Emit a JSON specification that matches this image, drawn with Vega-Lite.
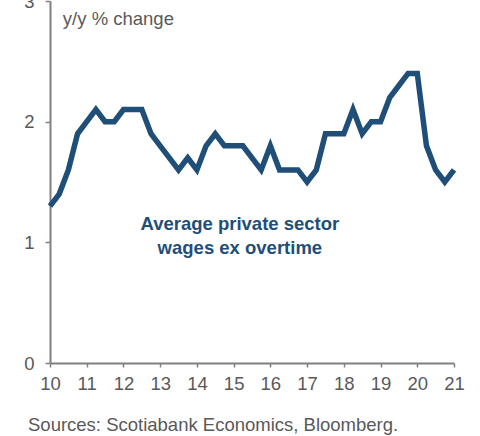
{
  "$schema": "https://vega.github.io/schema/vega-lite/v6.json",
  "autosize": "none",
  "width": 404,
  "height": 362,
  "padding": {"left": 50, "top": 1, "right": 26, "bottom": 73},
  "background": "white",
  "config": {"view": {"stroke": null}, "font": "Liberation Sans"},
  "title": {
    "text": "Sources: Scotiabank Economics, Bloomberg.",
    "orient": "bottom",
    "anchor": "start",
    "frame": "group",
    "dx": -22,
    "offset": 23,
    "fontSize": 18.5,
    "fontWeight": "normal",
    "color": "#595959",
    "font": "Liberation Sans"
  },
  "layer": [
    {
      "data": {
        "values": [
          {"t": 10.0, "v": 1.3}, {"t": 10.25, "v": 1.4}, {"t": 10.5, "v": 1.6}, {"t": 10.75, "v": 1.9},
          {"t": 11.0, "v": 2.0}, {"t": 11.25, "v": 2.1}, {"t": 11.5, "v": 2.0}, {"t": 11.75, "v": 2.0},
          {"t": 12.0, "v": 2.1}, {"t": 12.25, "v": 2.1}, {"t": 12.5, "v": 2.1}, {"t": 12.75, "v": 1.9},
          {"t": 13.0, "v": 1.8}, {"t": 13.25, "v": 1.7}, {"t": 13.5, "v": 1.6}, {"t": 13.75, "v": 1.7},
          {"t": 14.0, "v": 1.6}, {"t": 14.25, "v": 1.8}, {"t": 14.5, "v": 1.9}, {"t": 14.75, "v": 1.8},
          {"t": 15.0, "v": 1.8}, {"t": 15.25, "v": 1.8}, {"t": 15.5, "v": 1.7}, {"t": 15.75, "v": 1.6},
          {"t": 16.0, "v": 1.8}, {"t": 16.25, "v": 1.6}, {"t": 16.5, "v": 1.6}, {"t": 16.75, "v": 1.6},
          {"t": 17.0, "v": 1.5}, {"t": 17.25, "v": 1.6}, {"t": 17.5, "v": 1.9}, {"t": 17.75, "v": 1.9},
          {"t": 18.0, "v": 1.9}, {"t": 18.25, "v": 2.1}, {"t": 18.5, "v": 1.9}, {"t": 18.75, "v": 2.0},
          {"t": 19.0, "v": 2.0}, {"t": 19.25, "v": 2.2}, {"t": 19.5, "v": 2.3}, {"t": 19.75, "v": 2.4},
          {"t": 20.0, "v": 2.4}, {"t": 20.25, "v": 1.8}, {"t": 20.5, "v": 1.6}, {"t": 20.75, "v": 1.5},
          {"t": 21.0, "v": 1.6}
        ]
      },
      "mark": {"type": "line", "color": "#1F4E79", "strokeWidth": 5.5, "strokeJoin": "miter", "strokeCap": "butt", "clip": false},
      "encoding": {
        "x": {
          "field": "t", "type": "quantitative",
          "scale": {"domain": [10, 21], "nice": false, "zero": false},
          "axis": {
            "title": null, "values": [10,11,12,13,14,15,16,17,18,19,20,21], "tickCount": 30, "format": "d",
            "grid": false, "domainColor": "#808080", "domainWidth": 2,
            "tickColor": "#808080", "tickWidth": 1.5, "tickSize": 4,
            "labelFontSize": 18.5, "labelColor": "#595959", "labelPadding": 7,
            "labelFont": "Liberation Sans", "labelFlush": false, "labelOverlap": false
          }
        },
        "y": {
          "field": "v", "type": "quantitative",
          "scale": {"domain": [0, 3], "nice": false},
          "axis": {
            "title": null, "values": [0,1,2,3], "tickCount": 10, "format": "d",
            "grid": false, "domainColor": "#808080", "domainWidth": 2,
            "tickColor": "#808080", "tickWidth": 1.5, "tickSize": 5,
            "labelFontSize": 18.5, "labelColor": "#595959", "labelPadding": 11,
            "labelFont": "Liberation Sans", "labelFlush": false, "labelOverlap": false
          }
        }
      }
    },
    {
      "data": {"values": [{"label": "y/y % change"}]},
      "mark": {"type": "text", "align": "left", "baseline": "alphabetic", "fontSize": 18.5, "color": "#595959", "font": "Liberation Sans"},
      "encoding": {
        "text": {"field": "label"},
        "x": {"datum": 10.35, "type": "quantitative"},
        "y": {"datum": 2.8, "type": "quantitative"}
      }
    },
    {
      "data": {"values": [{"label": ["Average private sector", "wages ex overtime"]}]},
      "mark": {"type": "text", "align": "center", "baseline": "middle", "fontSize": 18.5, "fontWeight": "bold", "color": "#1F4E79", "lineHeight": 24, "font": "Liberation Sans"},
      "encoding": {
        "text": {"field": "label"},
        "x": {"datum": 15.17, "type": "quantitative"},
        "y": {"datum": 1.15, "type": "quantitative"}
      }
    }
  ]
}
